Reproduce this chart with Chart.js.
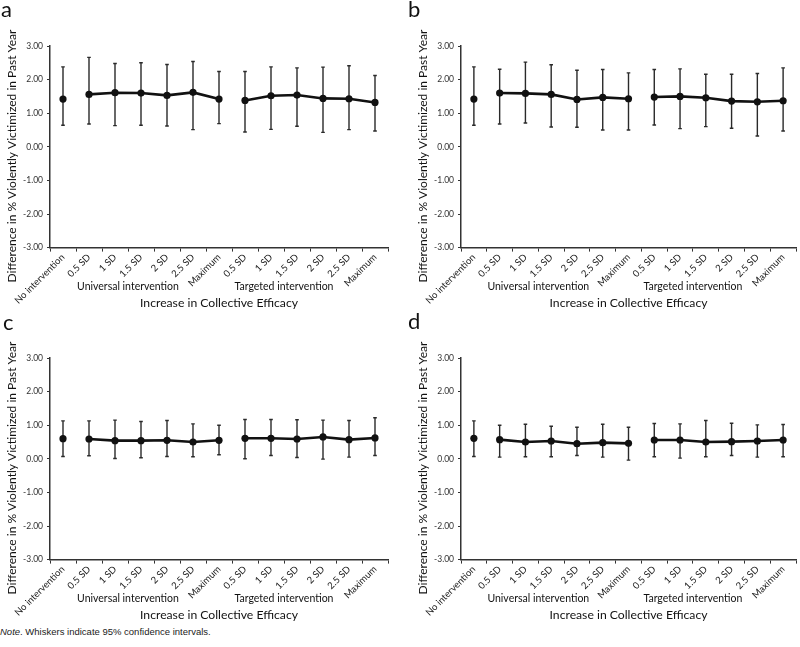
<!DOCTYPE html>
<html>
<head>
<meta charset="utf-8">
<script src="https://cdn.jsdelivr.net/npm/chart.js@4.4.0/dist/chart.umd.min.js"></script>
<style>
  html, body { margin: 0; padding: 0; background: #fff; }
  body { width: 800px; height: 647px; position: relative; overflow: hidden; }
  .panel { position: absolute; width: 400px; height: 310px; }
  .note { position: absolute; left: 0px; top: 626px; font-family: "Liberation Sans Narrow", "Liberation Sans", Arial, sans-serif; font-size: 9.5px; color: #222; }
</style>
</head>
<body>
<div class="panel" style="left:0;top:0"><canvas id="ca"></canvas></div>
<div class="panel" style="left:400px;top:0"><canvas id="cb"></canvas></div>
<div class="panel" style="left:0;top:312px"><canvas id="cc"></canvas></div>
<div class="panel" style="left:400px;top:312px"><canvas id="cd"></canvas></div>
<div class="note"><i>Note</i>. Whiskers indicate 95% confidence intervals.</div>
<script>
// ---- data ----
const categories = ["No intervention", "0.5 SD", "1 SD", "1.5 SD", "2 SD", "2.5 SD", "Maximum",
                    "0.5 SD", "1 SD", "1.5 SD", "2 SD", "2.5 SD", "Maximum"];
const groupLabels = ["Universal intervention", "Targeted intervention"];
const xTitle = "Increase in Collective Efficacy";
const yTitle = "Difference in % Violently Victimized in Past Year";
const yTicks = [-3, -2, -1, 0, 1, 2, 3];

const aMean = [1.42, 1.56, 1.61, 1.60, 1.53, 1.62, 1.42, 1.38, 1.52, 1.54, 1.44, 1.43, 1.32];
const aLow  = [0.64, 0.68, 0.63, 0.64, 0.62, 0.51, 0.69, 0.44, 0.52, 0.61, 0.43, 0.51, 0.47];
const aHigh = [2.38, 2.66, 2.48, 2.50, 2.45, 2.54, 2.24, 2.24, 2.38, 2.35, 2.37, 2.41, 2.12];

const bMean = [1.42, 1.60, 1.59, 1.56, 1.41, 1.47, 1.43, 1.48, 1.50, 1.46, 1.36, 1.34, 1.37];
const bLow  = [0.64, 0.68, 0.71, 0.59, 0.58, 0.50, 0.50, 0.65, 0.54, 0.60, 0.55, 0.32, 0.47];
const bHigh = [2.38, 2.31, 2.52, 2.44, 2.28, 2.30, 2.20, 2.30, 2.32, 2.16, 2.16, 2.18, 2.35];

const cMean = [0.60, 0.59, 0.54, 0.54, 0.55, 0.50, 0.55, 0.61, 0.61, 0.59, 0.65, 0.57, 0.62];
const cLow  = [0.07, 0.09, 0.01, 0.03, 0.07, 0.06, 0.12, 0.00, 0.10, 0.04, -0.01, 0.05, 0.10];
const cHigh = [1.13, 1.13, 1.15, 1.11, 1.14, 1.04, 1.00, 1.17, 1.17, 1.16, 1.15, 1.14, 1.22];

const dMean = [0.61, 0.57, 0.50, 0.53, 0.45, 0.48, 0.46, 0.56, 0.56, 0.50, 0.51, 0.53, 0.56];
const dLow  = [0.07, 0.05, 0.06, 0.06, 0.10, 0.05, -0.04, 0.06, 0.02, 0.06, 0.10, 0.05, 0.06];
const dHigh = [1.13, 1.00, 1.03, 0.97, 0.94, 1.03, 0.94, 1.05, 1.04, 1.14, 1.06, 1.01, 1.02];

// ---- rendering ----
const FONT = "Lato, 'Open Sans', sans-serif";
const INK = "#111";

const errorBarPlugin = {
  id: 'errorBars',
  beforeDatasetsDraw(chart, args, opts) {
    const {ctx, scales: {x, y}} = chart;
    ctx.save();
    ctx.strokeStyle = '#2a2a2a';
    ctx.lineWidth = 1.4;
    opts.low.forEach((lo, i) => {
      const hi = opts.high[i];
      const px = x.getPixelForValue(i);
      const y1 = y.getPixelForValue(lo), y2 = y.getPixelForValue(hi);
      ctx.beginPath();
      ctx.moveTo(px, y1); ctx.lineTo(px, y2);
      ctx.moveTo(px - 1.8, y1); ctx.lineTo(px + 1.8, y1);
      ctx.moveTo(px - 1.8, y2); ctx.lineTo(px + 1.8, y2);
      ctx.stroke();
    });
    ctx.restore();
  }
};

const textPlugin = {
  id: 'panelText',
  afterDraw(chart, args, opts) {
    const {ctx, chartArea, scales: {x}} = chart;
    ctx.save();
    ctx.fillStyle = INK;
    // panel letter
    ctx.font = "22px " + FONT;
    ctx.textAlign = 'left';
    ctx.textBaseline = 'alphabetic';
    ctx.fillText(opts.letter, opts.letterX, opts.letterY);
    // y title
    ctx.save();
    ctx.translate(chartArea.left - 38, 156);
    ctx.rotate(-Math.PI / 2);
    ctx.font = "12px " + FONT;
    ctx.textAlign = 'center';
    ctx.textBaseline = 'middle';
    ctx.fillText(yTitle, 0, 0);
    ctx.restore();
    // group labels
    ctx.font = "10.5px " + FONT;
    ctx.textAlign = 'center';
    ctx.textBaseline = 'middle';
    const gx1 = (x.getPixelForValue(2) + x.getPixelForValue(3)) / 2;
    const gx2 = (x.getPixelForValue(8) + x.getPixelForValue(9)) / 2;
    ctx.fillText(groupLabels[0], gx1, 287);
    ctx.fillText(groupLabels[1], gx2, 287);
    // x title
    ctx.font = "12.2px " + FONT;
    ctx.fillText(xTitle, (chartArea.left + chartArea.right) / 2, 303);
    ctx.restore();
  }
};

function makePanel(id, mean, low, high, letter, letterX, letterY, axisLeft, padRight) {
  const single = mean.map((v, i) => i === 0 ? v : null);
  const univ = mean.map((v, i) => (i >= 1 && i <= 6) ? v : null);
  const targ = mean.map((v, i) => (i >= 7) ? v : null);
  const ds = (data, showLine) => ({
    data, showLine, spanGaps: false,
    borderColor: INK, backgroundColor: INK, borderWidth: 2.6,
    pointRadius: 3.6, pointBackgroundColor: INK, pointBorderColor: INK, pointBorderWidth: 0,
    tension: 0
  });
  return new Chart(document.getElementById(id), {
    type: 'line',
    data: { labels: categories, datasets: [ds(single, false), ds(univ, true), ds(targ, true)] },
    options: {
      responsive: true,
      maintainAspectRatio: false,
      animation: false,
      events: [],
      layout: { padding: { left: 0, top: 46, right: padRight, bottom: 0 } },
      plugins: {
        legend: { display: false },
        tooltip: { enabled: false },
        errorBars: { low, high },
        panelText: { letter, letterX, letterY }
      },
      scales: {
        x: {
          type: 'category',
          offset: true,
          grid: { display: true, offset: true, drawOnChartArea: false, drawTicks: true, tickLength: 4, color: '#333', lineWidth: 1 },
          border: { display: true, color: '#333', width: 1.5 },
          ticks: { autoSkip: false, minRotation: 45, maxRotation: 45, padding: 0, color: '#222', font: { family: FONT, size: 9.5 } },
          afterFit(scale) { scale.height = 310 - 46 - 201.6; scale.paddingLeft = 0; scale.paddingRight = 0; }
        },
        y: {
          min: -3, max: 3,
          afterBuildTicks(scale) { scale.ticks = yTicks.map(v => ({ value: v })); },
          grid: { display: true, drawOnChartArea: false, drawTicks: true, tickLength: 3, color: '#333', lineWidth: 1 },
          border: { display: true, color: '#333', width: 1.5 },
          ticks: { padding: 4, color: '#333', font: { family: FONT, size: 8.5 }, callback: v => Number(v).toFixed(2) },
          afterFit(scale) { scale.width = axisLeft; scale.paddingTop = 0; scale.paddingBottom = 0; }
        }
      }
    },
    plugins: [errorBarPlugin, textPlugin]
  });
}

makePanel('ca', aMean, aLow, aHigh, 'a', 1, 17, 50, 12);
makePanel('cb', bMean, bLow, bHigh, 'b', 8, 17, 61, 1);
makePanel('cc', cMean, cLow, cHigh, 'c', 3, 18, 50, 12);
makePanel('cd', dMean, dLow, dHigh, 'd', 8, 17, 61, 1);
</script>
</body>
</html>
